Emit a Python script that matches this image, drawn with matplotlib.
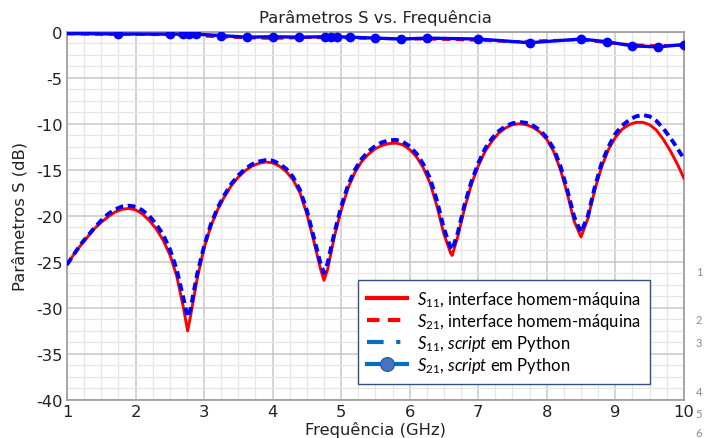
import matplotlib
matplotlib.use("Agg")
import matplotlib.pyplot as plt
from matplotlib.lines import Line2D
from matplotlib.ticker import MultipleLocator

# ---------------- data ----------------
freq_s11 = [1.0, 1.1, 1.2, 1.3, 1.4, 1.5, 1.6, 1.7, 1.8, 1.9,
            2.0, 2.1, 2.2, 2.3, 2.4, 2.5, 2.6, 2.7, 2.76, 2.8, 2.9,
            3.0, 3.1, 3.2, 3.3, 3.4, 3.5, 3.6, 3.7, 3.8, 3.9,
            4.0, 4.1, 4.2, 4.3, 4.4, 4.5, 4.6, 4.7, 4.75, 4.8, 4.9,
            5.0, 5.1, 5.2, 5.3, 5.4, 5.5, 5.6, 5.7, 5.8, 5.9,
            6.0, 6.1, 6.2, 6.3, 6.4, 6.5, 6.6, 6.62, 6.7, 6.8, 6.9,
            7.0, 7.1, 7.2, 7.3, 7.4, 7.5, 7.6, 7.7, 7.8, 7.9,
            8.0, 8.1, 8.2, 8.3, 8.4, 8.5, 8.6, 8.7, 8.8, 8.9,
            9.0, 9.1, 9.2, 9.3, 9.4, 9.5, 9.6, 9.7, 9.8, 9.9, 10.0]

s11_hmi = [-25.3, -24.2, -23.2, -22.3, -21.4, -20.7, -20.1, -19.6, -19.3, -19.2,
           -19.35, -19.8, -20.5, -21.4, -22.6, -24.2, -26.5, -30.0, -32.5, -31.0, -26.8,
           -23.5, -21.1, -19.3, -17.9, -16.7, -15.8, -15.1, -14.6, -14.3, -14.15,
           -14.25, -14.6, -15.2, -16.1, -17.5, -19.8, -22.7, -25.8, -27.0, -25.9, -22.3,
           -19.4, -17.0, -15.3, -14.1, -13.3, -12.7, -12.35, -12.15, -12.1, -12.3,
           -12.8, -13.6, -14.8, -16.5, -19.0, -22.0, -24.1, -24.3, -22.3, -19.2, -16.6,
           -14.6, -13.0, -11.9, -11.0, -10.45, -10.1, -10.0, -10.1, -10.4, -10.9,
           -11.7, -13.0, -15.0, -17.6, -20.6, -22.3, -20.3, -17.2, -14.7, -12.8,
           -11.5, -10.6, -10.1, -9.85, -9.85, -10.1, -10.7, -11.7, -12.9, -14.3, -15.9]

s11_py = [-25.3, -24.2, -23.1, -22.2, -21.3, -20.5, -19.8, -19.3, -19.0, -18.9,
          -19.0, -19.4, -20.0, -20.9, -22.0, -23.6, -25.8, -29.0, -31.0, -30.2, -26.3,
          -23.3, -20.9, -19.1, -17.7, -16.5, -15.6, -14.9, -14.4, -14.1, -13.95,
          -14.0, -14.35, -14.9, -15.8, -17.2, -19.4, -22.3, -25.2, -26.2, -25.2, -21.9,
          -19.0, -16.7, -15.0, -13.8, -13.0, -12.4, -12.0, -11.8, -11.75, -11.95,
          -12.45, -13.25, -14.4, -16.0, -18.4, -21.4, -23.5, -23.7, -21.9, -18.8, -16.3,
          -14.3, -12.7, -11.6, -10.8, -10.25, -9.95, -9.8, -9.9, -10.2, -10.7,
          -11.5, -12.7, -14.6, -17.2, -20.1, -21.8, -20.0, -16.9, -14.3, -12.5,
          -11.1, -10.2, -9.6, -9.2, -9.05, -9.2, -9.7, -10.5, -11.5, -12.6, -13.8]

freq_s21_hmi = [1.0, 1.5, 2.0, 2.5, 3.0, 3.5, 4.0, 4.5, 5.0, 5.5,
                6.0, 6.5, 7.0, 7.5, 8.0, 8.5, 9.0, 9.5, 10.0]
s21_hmi = [-0.25, -0.3, -0.3, -0.35, -0.5, -0.65, -0.75, -0.65, -0.7, -0.75,
           -0.8, -0.85, -0.95, -1.1, -0.95, -0.9, -1.3, -1.5, -1.5]

freq_s21_py = [1.0, 1.75, 2.5, 2.69, 2.78, 2.88, 3.25, 3.63, 4.0, 4.38, 4.76, 4.85,
               4.94, 5.13, 5.5, 5.88, 6.25, 7.0, 7.75, 8.5, 8.88, 9.25, 9.63, 10.0]
s21_py = [-0.2, -0.25, -0.27, -0.27, -0.27, -0.27, -0.43, -0.6, -0.55, -0.6, -0.55, -0.55,
          -0.55, -0.6, -0.7, -0.8, -0.7, -0.8, -1.2, -0.8, -1.1, -1.55, -1.65, -1.4]

legend_labels = [r"$S_{11}$, interface homem-máquina",
                 r"$S_{21}$, interface homem-máquina",
                 r"$S_{11}$, $\it{script}$ em Python",
                 r"$S_{21}$, $\it{script}$ em Python"]
side_numbers = ["1", "2", "3", "4", "5", "6"]

# ---------------- style ----------------
plt.rcParams["font.family"] = ["DejaVu Sans"]
plt.rcParams["axes.unicode_minus"] = False
plt.rcParams["mathtext.fontset"] = "custom"
plt.rcParams["mathtext.rm"] = "Lato"
plt.rcParams["mathtext.it"] = "Lato:italic"

fig = plt.figure(figsize=(7.05, 4.39), dpi=100)
ax = fig.add_axes([0.095, 0.0866, 0.875, 0.839])

ax.plot(freq_s11, s11_hmi, color="#ff0000", lw=2.1, zorder=3)
ax.plot(freq_s21_hmi, s21_hmi, color="#ff0000", lw=2.0, ls=(0, (3, 2)), zorder=3)
l_py, = ax.plot(freq_s11, s11_py, color="#0000ff", lw=2.8, zorder=4)
l_py.set_dashes([2.0, 1.2])
ax.plot(freq_s21_py, s21_py, color="#0000ff", lw=2.4, marker="o", markersize=6,
        markevery=list(range(1, len(freq_s21_py))), zorder=4)

ax.set_xlim(1, 10)
ax.set_ylim(-40, 0)
ax.xaxis.set_major_locator(MultipleLocator(1))
ax.xaxis.set_minor_locator(MultipleLocator(0.25))
ax.yaxis.set_major_locator(MultipleLocator(5))
ax.yaxis.set_minor_locator(MultipleLocator(1.25))
ax.grid(which="major", color="#c8c8c8", lw=1.1)
ax.grid(which="minor", color="#e6e6e6", lw=0.9)
ax.set_axisbelow(True)
ax.tick_params(which="both", length=0, labelsize=11.8, pad=3, colors="#222222")
for s in ax.spines.values():
    s.set_color("#9a9a9a")
    s.set_linewidth(1.2)

ax.set_title("Parâmetros S vs. Frequência", fontsize=11.8, color="#222222", pad=7)
ax.set_xlabel("Frequência (GHz)", fontsize=11.8, color="#222222", labelpad=1)
ax.set_ylabel("Parâmetros S (dB)", fontsize=11.8, color="#222222", labelpad=6)

handles = [
    Line2D([], [], color="#ff0000", lw=3),
    Line2D([], [], color="#ff0000", lw=3, ls=(0, (3, 2))),
    Line2D([], [], color="#0070c0", lw=3, ls=(0, (4, 3, 1, 3))),
    Line2D([], [], color="#0070c0", lw=3, marker="o", markersize=10,
           markerfacecolor="#4472c4", markeredgecolor="#2f5597", markeredgewidth=0.8),
]
leg = ax.legend(handles, legend_labels, loc="upper left",
                bbox_to_anchor=(358 / 705, 1 - 281 / 439), bbox_transform=fig.transFigure,
                prop={"family": "Lato", "size": 12}, frameon=True, fancybox=False,
                edgecolor="#2f528f", framealpha=1, handlelength=2.4, handletextpad=0.6,
                labelspacing=0.12, borderpad=0.55, borderaxespad=0)
leg.get_frame().set_linewidth(1.0)

side_y = [273, 321, 344, 393, 415, 434]
for t, yp in zip(side_numbers, side_y):
    fig.text(699 / 705, 1 - yp / 439, t, fontsize=8, color="#888888",
             ha="center", va="center", family="Lato")

fig.savefig("out.png", dpi=100)
